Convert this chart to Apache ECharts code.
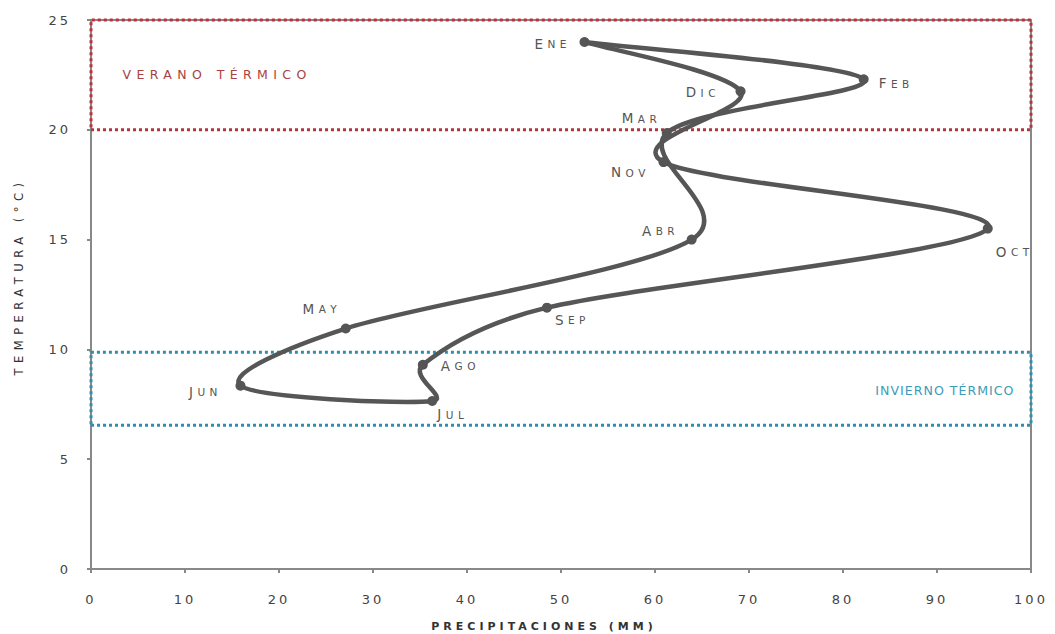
<!DOCTYPE html>
<html><head><meta charset="utf-8">
<script src="https://cdn.jsdelivr.net/npm/echarts@6/dist/echarts.min.js"></script>
<style>
html,body{margin:0;padding:0;background:#fff;overflow:hidden}#c{width:1055px;height:634px}
#c text[style*="13px"]{letter-spacing:3px}
#c text[style*="11px"]{letter-spacing:4px}
#c text[style*="11.5px"]{letter-spacing:5.5px}
#c text[style*="12.5px"]{letter-spacing:5.4px}
#c text[style*="12.6px"]{letter-spacing:1px}
</style>
</head><body><div id="c"></div>
<script>
// ---- data ----
const months = ['Ene','Feb','Mar','Abr','May','Jun','Jul','Ago','Sep','Oct','Nov','Dic'];
const precip = [52.5, 82.2, 61.25, 63.9, 27.1, 15.9, 36.3, 35.3, 48.5, 95.4, 60.9, 69.1];
const temp   = [24.0, 22.3, 19.85, 15.0, 10.95, 8.35, 7.65, 9.3, 11.9, 15.5, 18.53, 21.75];
const xTicks = [0,10,20,30,40,50,60,70,80,90,100];
const yTicks = [0,5,10,15,20,25];
const summerZone = [20, 25];
const winterZone = [6.55, 9.87];
const summerLabel = 'VERANO TÉRMICO';
const winterLabel = 'INVIERNO TÉRMICO';
const xTitle = 'PRECIPITACIONES (MM)';
const yTitle = 'TEMPERATURA (°C)';

// ---- label placement (style) ----
const labelPlace = {
  Ene:{position:'left',offset:[-8,2]},
  Feb:{position:'right',offset:[5,4]},
  Mar:{position:'left',offset:[0,-15]},
  Abr:{position:'left',offset:[-7,-9]},
  May:{position:'left',offset:[1,-20]},
  Jun:{position:'left',offset:[-13,6]},
  Jul:{position:'right',offset:[-5,13]},
  Ago:{position:'right',offset:[8,1]},
  Sep:{position:'right',offset:[-2,12]},
  Oct:{position:'right',offset:[-2,23]},
  Nov:{position:'left',offset:[-8,10]},
  Dic:{position:'left',offset:[-15,1]}
};
// small caps: first letter larger, following letters as separate small fragments (letter-spaced)
function smallCaps(s){
  const up = s.toUpperCase();
  return '{a|'+up.charAt(0)+'}' + up.slice(1).split('').map(ch=>'{b|'+ch+'}').join('');
}
const rich = {
  a:{fontSize:13.5,color:'#555',fontFamily:'DejaVu Sans'},
  b:{fontSize:10.5,color:'#555',fontFamily:'DejaVu Sans',padding:[1,0,0,4.5]}
};

const pts = months.map((m,i)=>({
  value:[precip[i],temp[i]],
  label:Object.assign({show:true,formatter:smallCaps(m),rich:rich},labelPlace[m])
}));

// closed path: Ene ... Dic, Ene
const seqX = precip.concat([precip[0]]);
const seqY = temp.concat([temp[0]]);
const pathData = seqX.map((x,i)=>[x,seqY[i]]);

function renderSeg(params, api){
  const i = params.dataIndex, n = seqX.length;
  if (i >= n-1) return null;
  const P = k => api.coord([seqX[k], seqY[k]]);
  const p0 = P(Math.max(i-1,0)), p1 = P(i), p2 = P(i+1), p3 = P(Math.min(i+2,n-1));
  const seg = Math.hypot(p2[0]-p1[0], p2[1]-p1[1]);
  function arm(a,b){
    let vx=(b[0]-a[0])/6, vy=(b[1]-a[1])/6;
    const L=Math.hypot(vx,vy), lim=seg/2;
    if (L>lim && L>0){ vx*=lim/L; vy*=lim/L; }
    return [vx,vy];
  }
  const a1 = arm(p0,p2), a2 = arm(p1,p3);
  return {type:'bezierCurve',
    shape:{x1:p1[0],y1:p1[1],x2:p2[0],y2:p2[1],cpx1:p1[0]+a1[0],cpy1:p1[1]+a1[1],cpx2:p2[0]-a2[0],cpy2:p2[1]-a2[1]},
    style:{stroke:'#565656',lineWidth:4.5,fill:null,lineCap:'round'}};
}

const chart = echarts.init(document.getElementById('c'),null,{renderer:'svg'});
const axisFont = {fontFamily:'DejaVu Sans',fontSize:13,color:'#444'};
chart.setOption({
  animation:false,
  grid:{left:91,right:24,top:20,bottom:65,show:true,borderColor:'#888',borderWidth:2,outerBoundsMode:'none',containLabel:false},
  xAxis:{type:'value',min:0,max:100,interval:10,
    name:xTitle,nameLocation:'middle',nameGap:52,
    nameTextStyle:{fontFamily:'DejaVu Sans',fontSize:11,fontWeight:'bold',color:'#333',padding:[0,34,0,0]},
    axisLine:{lineStyle:{color:'#888',width:2}},
    axisTick:{show:true,length:4,lineStyle:{color:'#888',width:2}},
    axisLabel:Object.assign({margin:24,formatter:v=>xTicks.includes(v)?String(v):''},axisFont),
    splitLine:{show:false}},
  yAxis:{type:'value',min:0,max:25,interval:5,
    name:yTitle,nameLocation:'middle',nameGap:66,nameRotate:90,
    nameTextStyle:{fontFamily:'DejaVu Sans',fontSize:11.5,color:'#333',padding:[0,0,0,36]},
    axisLine:{show:true,lineStyle:{color:'#888',width:2}},
    axisTick:{show:true,length:4,lineStyle:{color:'#888',width:2}},
    axisLabel:Object.assign({margin:20,formatter:v=>yTicks.includes(v)?String(v):''},axisFont),
    splitLine:{show:false}},
  series:[{
    type:'custom',coordinateSystem:'cartesian2d',renderItem:renderSeg,
    data:pathData,encode:{x:0,y:1},z:4,silent:true
  },{
    type:'scatter',data:pts,
    symbol:'circle',symbolSize:10,
    itemStyle:{color:'#555',opacity:1},
    z:5,
    markArea:{silent:true,data:[
      [{yAxis:summerZone[0],xAxis:0,itemStyle:{color:'rgba(0,0,0,0)',borderColor:'#b8343c',borderWidth:3,borderType:[3,3]},
        label:{show:true,position:'insideLeft',formatter:summerLabel,color:'#a8423f',fontFamily:'DejaVu Sans',fontSize:12.5,offset:[28,0]}},
       {yAxis:summerZone[1],xAxis:100}],
      [{yAxis:winterZone[0],xAxis:0,itemStyle:{color:'rgba(0,0,0,0)',borderColor:'#2c8fb0',borderWidth:3,borderType:[3,3]},
        label:{show:true,position:'insideRight',formatter:winterLabel,color:'#3b9cb8',fontFamily:'DejaVu Sans',fontSize:12.6,offset:[-13,2]}},
       {yAxis:winterZone[1],xAxis:100}]
    ]}
  }]
});
</script></body></html>
